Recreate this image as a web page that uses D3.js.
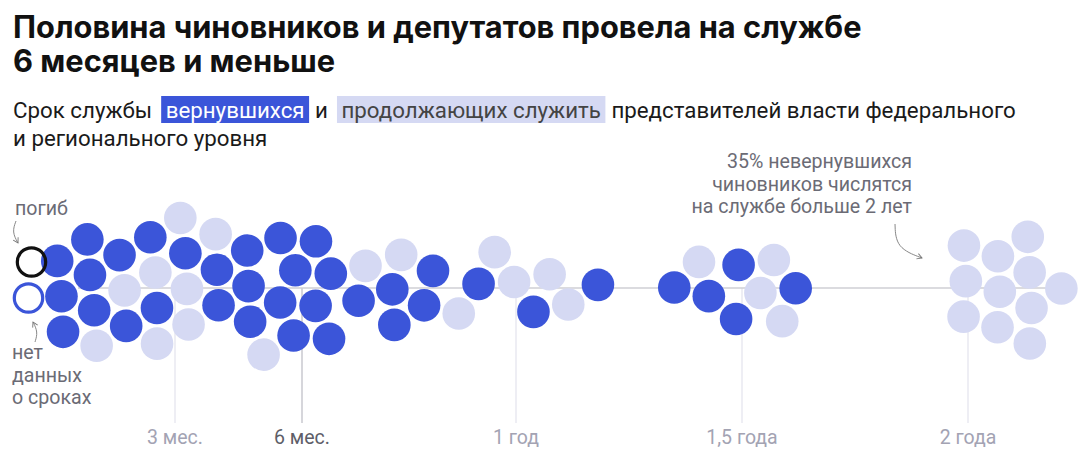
<!DOCTYPE html>
<html><head><meta charset="utf-8">
<script src="https://cdn.jsdelivr.net/npm/d3@7"></script>
<style>
body{margin:0;background:#fff;}
svg{display:block;font-family:Roboto,"Noto Sans",sans-serif;}
</style></head>
<body><svg id="chart" width="1088" height="473"></svg>
<script>
// ---- data ----
const titleLines = ["Половина чиновников и депутатов провела на службе", "6 месяцев и меньше"];
const subtitleParts = [
  {t: "Срок службы", kind: null},
  {t: "вернувшихся", kind: "ret"},
  {t: "и", kind: null},
  {t: "продолжающих служить", kind: "cont"},
  {t: "представителей власти федерального", kind: null}
];
const subtitleLine2 = "и регионального уровня";
const tickMonths = [3, 6, 12, 18, 24];
const tickLabels = ["3 мес.", "6 мес.", "1 год", "1,5 года", "2 года"];
// service length (months) of those who returned
const returnedMonths = [0.44, 0.35, 0.24, 1.13, 1.03, 0.94, 1.91, 1.72, 2.69, 2.33,
  3.31, 4.09, 4.85, 4.01, 4.77, 4.68, 5.83, 6.64, 5.77, 6.52, 5.57, 6.30, 5.47, 6.20,
  7.67, 8.45, 9.40, 8.64, 9.59, 12.42, 10.94, 14.16, 16.22, 17.15, 18.10, 17.81, 19.38];
// service length (months) of those still serving
const continuingMonths = [1.23, 1.82, 2.61, 2.50, 3.08, 2.98, 3.39, 4.16, 5.07,
  7.83, 8.82, 10.40, 11.41, 13.37, 11.95, 12.92, 19.03, 16.88, 18.74, 18.45,
  24.01, 25.67, 24.82, 23.97, 25.65, 24.79, 26.44, 23.94, 25.58, 24.74, 25.56];
const specialMarks = [{label: "погиб", kind: "dead"}, {label: "нет данных о сроках", kind: "nodata"}];
const notes = {
  dead: ["погиб"],
  nodata: ["нет", "данных", "о сроках"],
  longServe: ["35% невернувшихся", "чиновников числятся", "на службе больше 2 лет"]
};

// ---- style ----
const C = {ret: "#3b55d9", cont: "#d5d9f3", text: "#1a1a1a", note: "#6b6b75", tick: "#a3a3b3"};
const svg = d3.select("#chart");
const baseY = 288, R = 16.3;

const x = d3.scaleLinear().domain(tickMonths).range([175, 302, 516, 742, 968]);

// title
svg.append("g").selectAll("text").data(titleLines).join("text")
  .attr("x", 13).attr("y", (d, i) => 38 + i * 34.4)
  .attr("font-family", "Inter, Roboto, sans-serif")
  .attr("font-size", 30.8).attr("font-weight", 700).attr("fill", "#111").text(d => d);

// subtitle with highlights
const sub = svg.append("g");
let cx = 13; const pad = 4.5, subY = 118, fs = 22.3;
subtitleParts.forEach((p, i) => {
  const t = sub.append("text").attr("y", subY).attr("font-size", fs).text(p.t)
    .attr("fill", p.kind === "ret" ? "#fff" : p.kind === "cont" ? "#444" : C.text);
  const w = t.node().getComputedTextLength();
  if (p.kind) {
    sub.insert("rect", "text").attr("x", cx).attr("y", subY - 22).attr("width", w + 2 * pad)
      .attr("height", 27).attr("fill", C[p.kind]);
    t.attr("x", cx + pad);
    cx += w + 2 * pad + 6;
  } else {
    t.attr("x", cx);
    cx += w + 9;
  }
});
sub.append("text").attr("x", 13).attr("y", subY + 28).attr("font-size", fs)
  .attr("fill", C.text).text(subtitleLine2);

// grid
const grid = svg.append("g");
grid.selectAll("line").data(tickMonths).join("line")
  .attr("x1", d => x(d)).attr("x2", d => x(d)).attr("y1", baseY).attr("y2", 423)
  .attr("stroke", d => d === 6 ? "#c9c9cf" : "#e8e8f0").attr("stroke-width", 1.5);
grid.append("line").attr("x1", 78).attr("x2", 1076).attr("y1", baseY).attr("y2", baseY)
  .attr("stroke", "#cfcfd4").attr("stroke-width", 1.5);
svg.append("g").selectAll("text").data(tickMonths).join("text")
  .attr("x", d => x(d)).attr("y", 444).attr("text-anchor", "middle").attr("font-size", 19.5)
  .attr("fill", d => d === 6 ? "#5e5e68" : C.tick).text((d, i) => tickLabels[i]);

// beeswarm
const nodes = [
  ...returnedMonths.map(v => ({v, kind: "ret"})),
  ...continuingMonths.map(v => ({v, kind: "cont"}))
];
const sim = d3.forceSimulation(nodes)
  .force("x", d3.forceX(d => x(d.v)).strength(1))
  .force("y", d3.forceY(baseY).strength(0.12))
  .force("c", d3.forceCollide(17.8).iterations(3))
  .stop();
for (let i = 0; i < 400; i++) sim.tick();
svg.append("g").selectAll("circle").data(nodes).join("circle")
  .attr("cx", d => d.x).attr("cy", d => d.y).attr("r", R)
  .attr("fill", d => C[d.kind]);

// special rings
svg.append("g").selectAll("circle").data(specialMarks).join("circle")
  .attr("cx", (d, i) => i ? 28.5 : 31.5).attr("cy", (d, i) => baseY + (i ? 10 : -26))
  .attr("r", 14.2).attr("fill", "none")
  .attr("stroke", d => d.kind === "dead" ? "#111" : C.ret).attr("stroke-width", 3.2);

// notes
const noteG = svg.append("g").attr("fill", C.note).attr("font-size", 19.6);
noteG.append("text").attr("x", 15).attr("y", 215).text(notes.dead[0]);
noteG.append("text").selectAll("tspan").data(notes.nodata).join("tspan")
  .attr("x", 12).attr("y", (d, i) => 359 + i * 22.5).text(d => d);
noteG.append("text").attr("text-anchor", "end").selectAll("tspan").data(notes.longServe).join("tspan")
  .attr("x", 912).attr("y", (d, i) => 168 + i * 22.5).text(d => d);

// arrows
const defs = svg.append("defs");
defs.append("marker").attr("id", "ah").attr("viewBox", "0 0 10 10").attr("refX", 8).attr("refY", 5)
  .attr("markerWidth", 7).attr("markerHeight", 7).attr("orient", "auto-start-reverse")
  .append("path").attr("d", "M1,1 L8,5 L1,9").attr("fill", "none").attr("stroke", "#777").attr("stroke-width", 1.3);
const arrows = [
  [[16, 221], [12, 232], [18, 243]],
  [[35, 342], [38, 332], [33, 322]],
  [[895, 224], [896, 248], [922, 258]]
];
svg.append("g").selectAll("path").data(arrows).join("path")
  .attr("d", d3.line().curve(d3.curveBasis))
  .attr("fill", "none").attr("stroke", "#888").attr("stroke-width", 1)
  .attr("marker-end", "url(#ah)");
</script></body></html>
